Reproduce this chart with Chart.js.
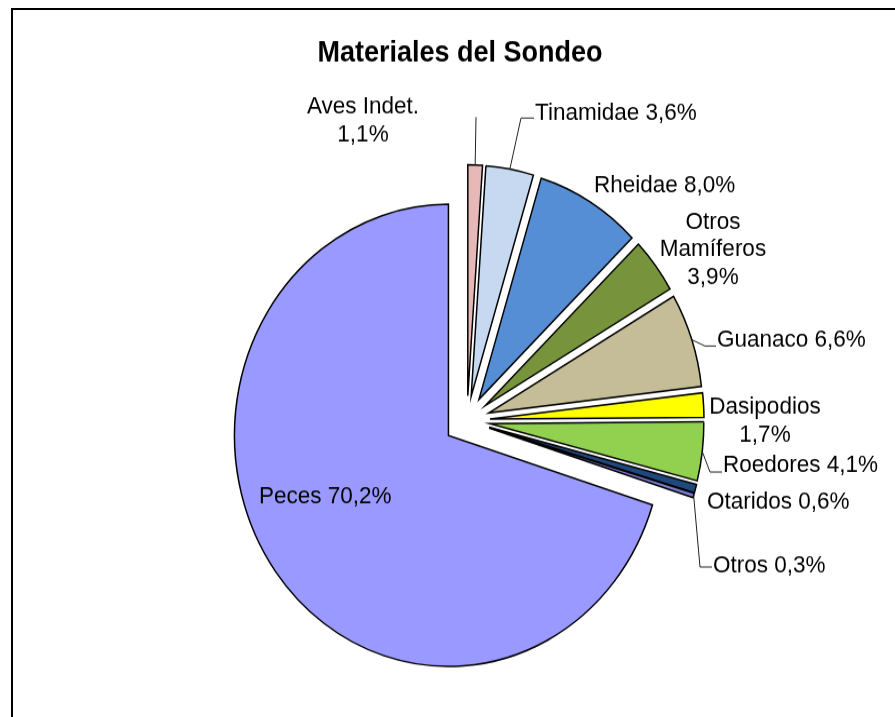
<!DOCTYPE html>
<html>
<head>
<meta charset="utf-8">
<title>Materiales del Sondeo</title>
<script src="https://cdn.jsdelivr.net/npm/chart.js@4.4.0/dist/chart.umd.min.js"></script>
<style>
  html, body { margin: 0; padding: 0; background: #fff; overflow: hidden; }
  #frame { position: absolute; left: 11px; top: 8px; width: 900px; height: 720px;
           border-left: 2px solid #000; border-top: 2px solid #000; }
  /* the original picture is stretched vertically, so the pie is an ellipse */
  #wrap { position: absolute; left: 0; top: 0; width: 895px; height: 664px;
          transform: scale(1, 1.08); transform-origin: 0 0; }
</style>
</head>
<body>
<div id="frame"></div>
<div id="wrap"><canvas id="sondeo" width="895" height="664"></canvas></div>
<script>
var categorias = ['Aves Indet.', 'Tinamidae', 'Rheidae', 'Otros Mamíferos', 'Guanaco',
                  'Dasipodios', 'Roedores', 'Otaridos', 'Otros', 'Peces'];
var porcentajes = [1.1, 3.6, 8.0, 3.9, 6.6, 1.7, 4.1, 0.6, 0.3, 70.2];
var colores = ['#E6B9B8', '#C6D9F1', '#558ED5', '#77933C', '#C4BD97',
               '#FFFF00', '#92D050', '#1F497D', '#7F7FD8', '#9999FF'];

var SY = 1.08;      // vertical stretch
var EXPLODE = 23;   // slice explosion in px

// label layout, in page pixels (x, y of the first line centre)
var etiquetas = [
  { forma: 'dos',  x: 363, y: 107, align: 'center', guia: [[476, 117]] },
  { forma: 'una',  x: 535, y: 113, align: 'left',   guia: [[521, 118], [534, 118]] },
  { forma: 'una',  x: 594, y: 186, align: 'left' },
  { forma: 'tres', x: 713, y: 222, align: 'center' },
  { forma: 'una',  x: 717, y: 340, align: 'left',   guia: [[705, 346], [716, 346]] },
  { forma: 'dos',  x: 765, y: 407, align: 'center' },
  { forma: 'una',  x: 723, y: 465, align: 'left',   guia: [[710, 472], [722, 472]] },
  { forma: 'una',  x: 707, y: 502, align: 'left' },
  { forma: 'una',  x: 713, y: 566, align: 'left',   guia: [[700, 567], [712, 567]] },
  { forma: 'una',  x: 259, y: 497, align: 'left' }
];

function pct(v) { return v.toFixed(1).replace('.', ',') + '%'; }

function lineas(i) {
  var nombre = categorias[i], p = pct(porcentajes[i]);
  var f = etiquetas[i].forma;
  if (f === 'dos') return [nombre, p];
  if (f === 'tres') return nombre.split(' ').concat([p]);
  return [nombre + ' ' + p];
}

var explotar = {
  id: 'explotar',
  beforeDatasetDraw: function (chart, args) {
    var ctx = chart.ctx;
    args.meta.data.forEach(function (arc) {
      var mid = (arc.startAngle + arc.endAngle) / 2;
      ctx.save();
      ctx.translate(Math.cos(mid) * EXPLODE, Math.sin(mid) * EXPLODE);
      arc.draw(ctx, chart.chartArea);
      ctx.restore();
    });
    return false;
  },
  afterDraw: function (chart) {
    var ctx = chart.ctx;
    var arcs = chart.getDatasetMeta(0).data;
    ctx.save();
    ctx.fillStyle = '#000';
    ctx.textBaseline = 'middle';

    ctx.font = 'bold 27px "Liberation Sans", Arial, sans-serif';
    ctx.textAlign = 'center';
    ctx.fillText('Materiales del Sondeo', 460, 53 / SY);

    ctx.font = '22.5px "Liberation Sans", Arial, sans-serif';
    etiquetas.forEach(function (e, i) {
      ctx.textAlign = e.align;
      lineas(i).forEach(function (t, k) {
        ctx.fillText(t, e.x, (e.y + k * 27.5) / SY);
      });
      if (e.guia) {
        var arc = arcs[i];
        var mid = (arc.startAngle + arc.endAngle) / 2;
        var r = arc.outerRadius + EXPLODE;
        ctx.beginPath();
        ctx.moveTo(arc.x + Math.cos(mid) * r, arc.y + Math.sin(mid) * r);
        e.guia.forEach(function (p) { ctx.lineTo(p[0], p[1] / SY); });
        ctx.strokeStyle = '#222';
        ctx.lineWidth = 1;
        ctx.stroke();
      }
    });
    ctx.restore();
  }
};

var ctx = document.getElementById('sondeo').getContext('2d');
var grafico = new Chart(ctx, {
  type: 'pie',
  data: {
    labels: categorias,
    datasets: [{
      data: porcentajes,
      backgroundColor: colores,
      borderColor: '#000',
      borderWidth: 1.5,
      borderJoinStyle: 'miter',
      radius: 214
    }]
  },
  options: {
    responsive: false,
    animation: false,
    events: [],
    layout: { padding: { left: 39, top: 115, right: 0, bottom: 0 } },
    plugins: {
      legend: { display: false },
      title: { display: false },
      tooltip: { enabled: false }
    }
  },
  plugins: [explotar]
});
</script>
</body>
</html>
